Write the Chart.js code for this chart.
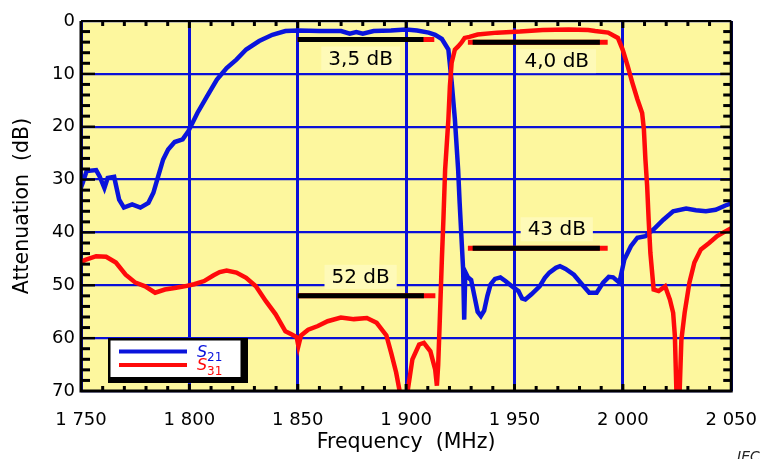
<!DOCTYPE html>
<html>
<head>
<meta charset="utf-8">
<script src="https://cdn.jsdelivr.net/npm/chart.js@4.4.1/dist/chart.umd.min.js"></script>
<style>
  html, body { margin: 0; padding: 0; background: #fff; }
  #wrap { width: 776px; height: 459px; }
</style>
</head>
<body>
<div id="wrap"><canvas id="chart" width="776" height="459"></canvas></div>
<script>
// S21 transmission (blue)
const s21Freq = [1750, 1750.8, 1752.6, 1757, 1758.6, 1760.8, 1762.3, 1765.3, 1767.6, 1769.8, 1773.6, 1777.4, 1781.1,
  1783.4, 1785.6, 1787.9, 1790.2, 1793.2, 1796.9, 1799.6, 1803.7, 1808.2, 1812.7, 1817.2, 1821.7, 1826.2, 1832.2,
  1838.3, 1844.3, 1850.3, 1860, 1870, 1874, 1877, 1880, 1885, 1893, 1900, 1905, 1910.4, 1913.4, 1916.5, 1919.5,
  1921, 1922.5, 1924, 1924.7, 1925.5, 1926.3, 1926.8, 1927.3, 1928.5, 1930, 1931.5, 1933, 1934.5, 1936, 1937.5,
  1939, 1941, 1943.5, 1945.8, 1948.8, 1951.8, 1953.5, 1955, 1957.8, 1961.6, 1964, 1966.1, 1969.1, 1971, 1973.6,
  1977.4, 1981.1, 1984.5, 1987.9, 1990.9, 1993.5, 1995.5, 1998.4, 2000.7, 2003.7, 2006.7, 2010.4, 2014.2, 2018.7,
  2023.2, 2029.2, 2033.7, 2038.3, 2042.8, 2047.3, 2050];
const s21Att = [31.5, 30.6, 28.4, 28.2, 29.4, 31.6, 29.7, 29.5, 33.8, 35.3, 34.7, 35.3, 34.4,
  32.5, 29.4, 26.2, 24.3, 22.9, 22.4, 20.8, 17.4, 14.2, 11.1, 8.9, 7.3, 5.4, 3.8,
  2.6, 1.9, 1.8, 1.9, 1.9, 2.4, 2.1, 2.4, 1.9, 1.8, 1.6, 1.8, 2.2, 2.6, 3.4, 5.4,
  11.5, 18.6, 28.1, 34.4, 40.7, 47, 56.5, 47.5, 48.5, 49, 52, 55, 55.8, 54.8, 52,
  49.8, 48.8, 48.5, 49.2, 50.2, 51.1, 52.5, 52.7, 51.7, 50.2, 48.6, 47.6, 46.7, 46.4, 46.9,
  48, 49.8, 51.4, 51.4, 49.5, 48.4, 48.5, 49.5, 45.1, 42.6, 41, 40.7, 39.4, 37.6,
  36, 35.5, 35.8, 36, 35.7, 34.9, 34.5];

// S31 transmission (red)
const s31Freq = [1750, 1752, 1757, 1761.6, 1766.1, 1770.6, 1775.1, 1779.6, 1784.2, 1788.7, 1793.2, 1797.7, 1802.2,
  1806.8, 1811.2, 1814, 1817.2, 1821.7, 1826.2, 1830.7, 1835.3, 1839.8, 1844.3, 1847.3, 1849.5, 1850.3, 1851.5,
  1854.8, 1859.3, 1863.8, 1869.9, 1875.9, 1881.9, 1886.4, 1890.9, 1893.1, 1895.4, 1897, 1898, 1900, 1900.7, 1902.9,
  1906, 1908.2, 1911.2, 1913.4, 1914.2, 1914.8, 1915.5, 1916.5, 1917.2, 1918, 1919.5, 1920.2, 1921, 1922.5, 1924,
  1925.5, 1927, 1929.2, 1933, 1942, 1952.5, 1963, 1975, 1984, 1987.2, 1993.2, 1997.7, 1999.9, 2002.2, 2004.4,
  2006.7, 2008.9, 2009.7, 2010.4, 2011.2, 2011.9, 2012.7, 2014.2, 2016.5, 2019.5, 2021.7, 2023.2, 2024, 2024.7,
  2025, 2026, 2026.2, 2027, 2028.5, 2030.7, 2033, 2036, 2039.8, 2043.5, 2047.3, 2050];
const s31Att = [45.6, 45.2, 44.5, 44.6, 45.7, 48, 49.5, 50.2, 51.4, 50.8, 50.5, 50.2, 49.8,
  49.2, 48.1, 47.5, 47.2, 47.6, 48.6, 50.2, 53, 55.5, 58.7, 59.3, 59.8, 61.5, 59.5,
  58.4, 57.7, 56.8, 56.1, 56.4, 56.2, 57.1, 59.5, 62.8, 66.5, 70, 74, 74, 70, 64,
  61.2, 60.9, 62.5, 65.9, 69, 65, 57, 45, 37.6, 28.1, 18.6, 12.3, 7.9, 5.4, 4.8,
  4.1, 3.2, 3, 2.55, 2.2, 2, 1.7, 1.6, 1.7, 1.9, 2.2, 3.2, 5.4, 8.5, 11.7,
  14.8, 17.4, 20.5, 26.2, 31.2, 37.6, 43.9, 50.8, 51.1, 50.2, 52.7, 55.2, 59.6, 70,
  75, 75, 70, 60.3, 55.2, 49.5, 45.7, 43.2, 42, 40.7, 39.8, 39.2];

// level markers: insertion loss and stop-band attenuation
const markerLevel = [3.5, 4.0, 43, 52];
const markerFrom = [1850, 1928.5, 1928.5, 1850];
const markerTo = [1913, 1993, 1993, 1913.5];
const markerBlackFrom = [1850, 1930.7, 1930.7, 1850];
const markerBlackTo = [1908, 1989.4, 1989.4, 1908.2];
const markerTextFreq = [1879, 1969.5, 1969.5, 1879];

const seriesSub = ["21", "31"];

const xTickValues = [1750, 1800, 1850, 1900, 1950, 2000, 2050];
const xTickLabels = ["1 750", "1 800", "1 850", "1 900", "1 950", "2 000", "2 050"];
const yTickValues = [0, 10, 20, 30, 40, 50, 60, 70];
const yTickLabels = ["0", "10", "20", "30", "40", "50", "60", "70"];

const BLUE = "#0a14dc";
const RED = "#ff0a0a";
const GRID = "#0a10d8";
const FONT = "'DejaVu Sans', sans-serif";

const pts = (xs, ys) => xs.map((x, i) => ({ x: x, y: ys[i] }));
const fmtLevel = v => (v < 10 ? v.toFixed(1).replace(".", ",") : String(Math.round(v))) + " dB";

const datasets = [
  { label: "S31", data: pts(s31Freq, s31Att), borderColor: RED, borderWidth: 4.5, order: 0 },
  { label: "S21", data: pts(s21Freq, s21Att), borderColor: BLUE, borderWidth: 4.5, order: 1 }
];
markerLevel.forEach((lv, i) => {
  datasets.push({ label: "mk", data: [{ x: markerBlackFrom[i], y: lv }, { x: markerBlackTo[i], y: lv }],
    borderColor: "#000", borderWidth: 5, order: 2 });
  datasets.push({ label: "mk", data: [{ x: markerFrom[i], y: lv }, { x: markerTo[i], y: lv }],
    borderColor: RED, borderWidth: 5, order: 3 });
});
datasets.forEach(d => { d.pointRadius = 0; d.tension = 0; d.fill = false; d.clip = 0; d.borderCapStyle = "butt"; });

const plotBackground = {
  id: "plotBackground",
  beforeDraw(chart) {
    const a = chart.chartArea, ctx = chart.ctx;
    ctx.save();
    ctx.fillStyle = "#fdf79e";
    ctx.fillRect(a.left, a.top, a.right - a.left, a.bottom - a.top);
    ctx.restore();
  }
};

const overlay = {
  id: "overlay",
  afterDatasetsDraw(chart) {
    const ctx = chart.ctx, a = chart.chartArea;
    const xs = chart.scales.x, ys = chart.scales.y;
    ctx.save();
    ctx.fillStyle = "#000";

    // minor ticks, pointing inwards
    for (let f = 1760; f < 2050; f += 10) {
      if (f % 50 === 0) continue;
      const px = xs.getPixelForValue(f);
      ctx.fillRect(px - 1.5, a.top, 3, 5);
      ctx.fillRect(px - 1.5, a.bottom - 5, 3, 5);
    }
    for (let d = 2; d < 70; d += 2) {
      if (d % 10 === 0) continue;
      const py = ys.getPixelForValue(d);
      ctx.fillRect(a.left, py - 1.5, 9, 3);
      ctx.fillRect(a.right - 8, py - 1.5, 8, 3);
    }
    // black stubs at the ends of the grid lines
    xTickValues.slice(1, -1).forEach(f => {
      const px = xs.getPixelForValue(f);
      ctx.fillRect(px - 1.5, a.top, 3, 7);
      ctx.fillRect(px - 1.5, a.bottom - 7, 3, 7);
    });
    yTickValues.slice(1, -1).forEach(d => {
      const py = ys.getPixelForValue(d);
      ctx.fillRect(a.left, py - 1.2, 14, 2.4);
      ctx.fillRect(a.right - 11, py - 1.2, 11, 2.4);
    });

    // frame
    ctx.strokeStyle = "#000";
    ctx.lineWidth = 2;
    ctx.beginPath(); ctx.moveTo(a.left, a.top); ctx.lineTo(a.right, a.top); ctx.stroke();
    ctx.lineWidth = 3;
    ctx.beginPath();
    ctx.moveTo(a.left, a.top); ctx.lineTo(a.left, a.bottom);
    ctx.lineTo(a.right, a.bottom); ctx.lineTo(a.right, a.top);
    ctx.stroke();

    // marker labels
    ctx.font = "20px " + FONT;
    ctx.textAlign = "center";
    ctx.textBaseline = "middle";
    markerLevel.forEach((lv, i) => {
      const txt = fmtLevel(lv);
      const cx = xs.getPixelForValue(markerTextFreq[i]);
      const cy = ys.getPixelForValue(lv) + (lv < 20 ? 19 : -19);
      const w = ctx.measureText(txt).width + 14;
      ctx.fillStyle = "#fefab8";
      ctx.fillRect(cx - w / 2, cy - 12, w, 24);
      ctx.fillStyle = "#000";
      ctx.fillText(txt, cx, cy + 1);
    });

    // legend box with drop shadow
    const lx = a.left + 27, ly = a.bottom - 53;
    ctx.fillStyle = "#000";
    ctx.fillRect(lx, ly, 140, 45);
    ctx.fillStyle = "#fff";
    ctx.fillRect(lx + 2.5, ly + 2.5, 130, 36.5);
    [BLUE, RED].forEach((c, i) => {
      const yy = ly + 13.5 + i * 13.5;
      ctx.strokeStyle = c;
      ctx.lineWidth = 4;
      ctx.beginPath(); ctx.moveTo(lx + 11, yy); ctx.lineTo(lx + 79, yy); ctx.stroke();
      ctx.fillStyle = c;
      ctx.textAlign = "left";
      ctx.textBaseline = "alphabetic";
      ctx.font = "italic 16px " + FONT;
      ctx.fillText("S", lx + 89, yy + 5);
      ctx.font = "12px " + FONT;
      ctx.fillText(seriesSub[i], lx + 99, yy + 9.5);
    });

    // source mark
    ctx.fillStyle = "#222";
    ctx.font = "italic 14px " + FONT;
    ctx.textAlign = "left";
    ctx.fillText("IEC", 737, 461);
    ctx.restore();
  }
};

new Chart(document.getElementById("chart"), {
  type: "line",
  data: { datasets: datasets },
  plugins: [plotBackground, overlay],
  options: {
    responsive: false,
    animation: false,
    devicePixelRatio: 1,
    layout: { padding: { top: 21, right: 30, left: 0, bottom: 0 } },
    plugins: { legend: { display: false }, tooltip: { enabled: false } },
    scales: {
      x: {
        type: "linear",
        min: 1750,
        max: 2050,
        afterFit(scale) { scale.height = 68; },
        afterBuildTicks(scale) { scale.ticks = xTickValues.map(v => ({ value: v })); },
        ticks: {
          color: "#000",
          font: { family: FONT, size: 18 },
          padding: 19,
          maxRotation: 0,
          callback: (v, i) => xTickLabels[i]
        },
        grid: { color: GRID, lineWidth: 3, drawTicks: false },
        border: { display: false },
        title: { display: true, text: "Frequency  (MHz)", color: "#000",
          font: { family: FONT, size: 20.5 }, padding: { top: 0, bottom: 4 } }
      },
      y: {
        type: "linear",
        reverse: true,
        min: 0,
        max: 70,
        afterFit(scale) { scale.width = 81; },
        afterBuildTicks(scale) { scale.ticks = yTickValues.map(v => ({ value: v })); },
        ticks: {
          color: "#000",
          font: { family: FONT, size: 18 },
          padding: 6,
          callback: (v, i) => yTickLabels[i]
        },
        grid: { color: GRID, lineWidth: 2.2, drawTicks: false },
        border: { display: false },
        title: { display: true, text: "Attenuation  (dB)", color: "#000",
          font: { family: FONT, size: 20.5 }, padding: { top: 10, bottom: 0 } }
      }
    }
  }
});
</script>
</body>
</html>
